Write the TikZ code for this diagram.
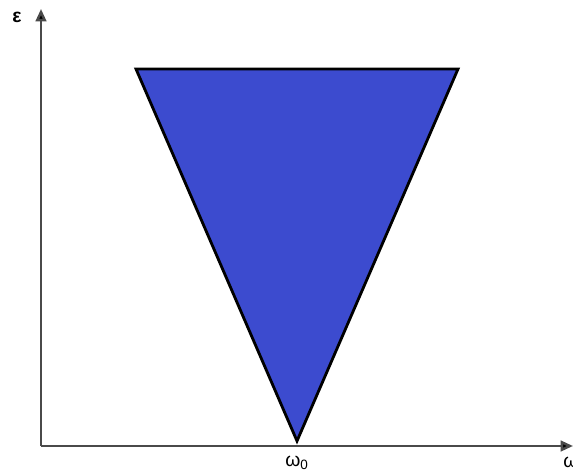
\documentclass[tikz,border=0pt]{standalone}
\usepackage{fontspec}
\setmainfont{Liberation Sans}
\usetikzlibrary{arrows.meta}
\definecolor{cWedge}{HTML}{3C4BCF}
\definecolor{cAxis}{HTML}{4A4A4A}

\begin{document}
\begin{tikzpicture}[x={(0.02cm,0)}, y={(0,-0.02cm)}, font=\fontsize{11}{13}\selectfont]
        \useasboundingbox (0,0) rectangle (573,472);
        % axes
        \coordinate (origin) at (41,446);
        \coordinate (ytip)   at (41,9);
        \coordinate (xtip)   at (573,446);
        \draw[cAxis, line width=1.4pt, -{Triangle[length=7pt,width=6pt,fill=black]}] (origin) -- (ytip);
        \draw[cAxis, line width=1.4pt, -{Triangle[length=7pt,width=6pt,fill=black]}] (origin) -- (xtip);
        % wedge
        \filldraw[fill=cWedge, draw=black, line width=1.6pt, line join=miter]
          (136,69) -- (458,69) -- (297,441) -- cycle;
        % labels
        \node[font=\fontsize{11}{13}\selectfont\bfseries] (eps) at (17,17) {ε};
        \node (omega)  at (571,462) {ω};
        \node (omega0) at (297,463) {ω\textsubscript{0}};
      \end{tikzpicture}
\end{document}
